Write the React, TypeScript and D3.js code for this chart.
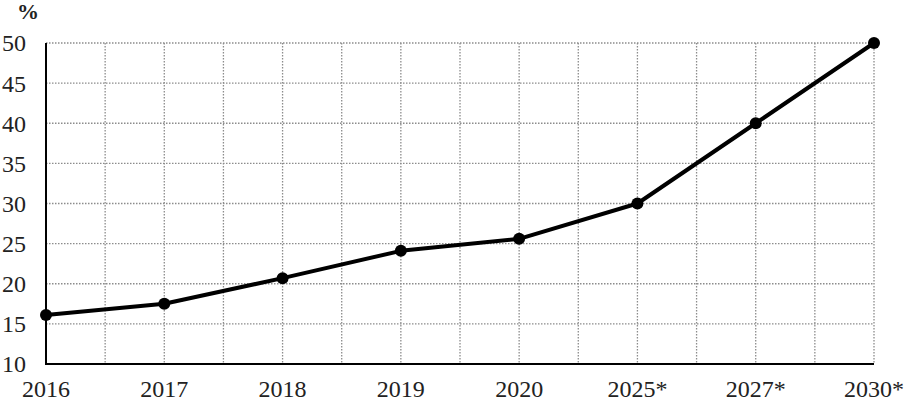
import React from "react";
import * as d3 from "d3";

const categories = ["2016", "2017", "2018", "2019", "2020", "2025*", "2027*", "2030*"];
const values = [16.1, 17.5, 20.7, 24.1, 25.6, 30, 40, 50];
const yTicks = [10, 15, 20, 25, 30, 35, 40, 45, 50];
const unitLabel = "%";

const W = 904;
const H = 402;
const margin = { left: 46, right: 30, top: 43, bottom: 38 };
const SERIF = "Liberation Serif";

export default function App() {
  const x = d3.scaleLinear().domain([0, categories.length - 1]).range([margin.left, W - margin.right]);
  const y = d3.scaleLinear().domain([10, 50]).range([H - margin.bottom, margin.top]);
  const halfSteps = d3.range(1, (categories.length - 1) * 2 + 1).map((k) => k / 2);
  const line = d3
    .line<number>()
    .x((_, i) => x(i))
    .y((d) => y(d));

  return (
    <div style={{ position: "absolute", left: 0, top: 0, width: W, height: H, fontFamily: SERIF }}>
      <svg width={W} height={H} style={{ display: "block", background: "#fff", fontFamily: SERIF }}>
        {yTicks
          .filter((t) => t !== 10)
          .map((t) => (
            <line
              key={"h" + t}
              x1={x(0)}
              x2={x(categories.length - 1)}
              y1={y(t)}
              y2={y(t)}
              stroke="#8c8c8c"
              strokeWidth={1.3}
              strokeDasharray="1.5 1.5"
            />
          ))}
        {halfSteps.map((s) => (
          <line
            key={"v" + s}
            x1={x(s)}
            x2={x(s)}
            y1={y(50)}
            y2={y(10)}
            stroke="#8c8c8c"
            strokeWidth={1.3}
            strokeDasharray="1.5 1.5"
          />
        ))}
        <line x1={x(0)} x2={x(0)} y1={y(50)} y2={y(10) + 1} stroke="#000" strokeWidth={2} />
        <line x1={x(0)} x2={x(categories.length - 1)} y1={y(10)} y2={y(10)} stroke="#000" strokeWidth={2} />
        <g style={{ fontFamily: SERIF, fontSize: "24px" }} fill="#222">
          {yTicks.map((t) => (
            <text key={"yl" + t} x={26} y={y(t)} dy="0.35em" textAnchor="end">
              {t}
            </text>
          ))}
          {categories.map((c, i) => (
            <text key={"xl" + c} x={x(i)} y={397} textAnchor="middle">
              {c}
            </text>
          ))}
          <text x={28} y={19} textAnchor="middle" style={{ fontSize: "22px", fontWeight: "bold" }}>
            {unitLabel}
          </text>
        </g>
        <path d={line(values) || ""} fill="none" stroke="#000" strokeWidth={4} strokeLinejoin="round" />
        {values.map((v, i) => (
          <circle key={"p" + i} cx={x(i)} cy={y(v)} r={6} fill="#000" />
        ))}
      </svg>
    </div>
  );
}
